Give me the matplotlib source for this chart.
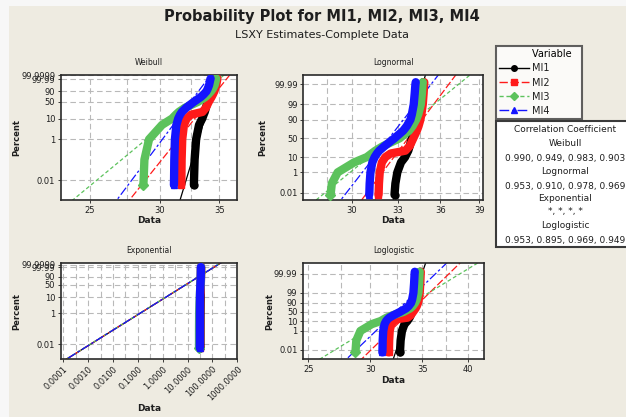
import math

import matplotlib
matplotlib.use("Agg")
from matplotlib import pyplot as plt
from matplotlib.lines import Line2D
from matplotlib.patches import Rectangle
import numpy as np

#############
#   DATA    #
#############
SERIES = ["MI1", "MI2", "MI3", "MI4"]
COLORS = ["#000000", "#FF1A1A", "#5CC25C", "#1414FF"]
MARKERS = ["o", "s", "D", "^"]
FIT_STYLES = ["-", (0, (6, 2)), (0, (3, 2)), (0, (7, 2, 2, 2))]

# cumulative percent of each read point (same for every series)
PCT = [0.0057, 0.01, 0.1, 1, 5, 10, 15, 20, 30, 50, 70, 80, 90, 95, 99, 99.9, 99.99, 99.994]
MI1 = [32.76, 32.77, 32.82, 32.95, 33.2, 33.48, 33.6, 33.7, 33.8, 33.95, 34.12, 34.22, 34.35, 34.45, 34.58, 34.68, 34.74, 34.76]
MI2 = [31.70, 31.71, 31.73, 31.78, 31.92, 32.15, 32.5, 33.5, 33.8, 34.05, 34.3, 34.42, 34.55, 34.62, 34.72, 34.78, 34.82, 34.83]
MI3 = [28.72, 28.74, 28.80, 29.15, 30.15, 30.95, 31.25, 31.5, 32.0, 33.1, 33.75, 34.0, 34.25, 34.4, 34.58, 34.66, 34.7, 34.72]
MI4 = [31.10, 31.11, 31.13, 31.18, 31.3, 31.45, 31.6, 31.75, 32.1, 32.75, 33.35, 33.6, 33.85, 33.95, 34.08, 34.15, 34.2, 34.22]
DATA = [MI1, MI2, MI3, MI4]

# fitted lines: data value at FIT_PCT[0] and FIT_PCT[1]
FIT_PCT = [0.0001, 99.999999]
WEIBULL_FIT = [(31.09, 34.93), (26.53, 36.12), (22.39, 35.67), (25.74, 34.36)]
LOGNORMAL_FIT = [(32.54, 35.25), (30.25, 38.24), (27.34, 40.10), (28.97, 36.93)]
EXPONENTIAL_FIT = [(1.22e-5, 224.7), (1.20e-5, 221.0), (1.18e-5, 217.4), (1.20e-5, 221.0)]
LOGLOGISTIC_FIT = [(31.80, 36.30), (28.39, 42.45), (24.65, 47.00), (27.14, 40.88)]

CORR_WEIBULL = [0.990, 0.949, 0.983, 0.903]
CORR_LOGNORMAL = [0.953, 0.910, 0.978, 0.969]
CORR_LOGLOGISTIC = [0.953, 0.895, 0.969, 0.949]

WEIBULL_YTICKS = [0.01, 1, 10, 50, 90, 99.99, 99.9999]
NORMAL_YTICKS = [0.01, 1, 10, 50, 90, 99, 99.99]
EXP_XTICKS = [0.0001, 0.001, 0.01, 0.1, 1, 10, 100, 1000]


#######################
#   Probability axes  #
#######################
def _frac(v):
    return np.clip(np.asarray(v, dtype=float) / 100.0, 1e-15, 1 - 1e-15)


def weibull_fwd(v):
    return np.log(-np.log1p(-_frac(v)))


def weibull_inv(w):
    return -100.0 * np.expm1(-np.exp(np.clip(np.asarray(w, dtype=float), -60, 5)))


_erfc = np.vectorize(math.erfc, otypes=[float])


def normal_inv(z):
    return 50.0 * _erfc(-np.asarray(z, dtype=float) / math.sqrt(2.0))


def normal_fwd(v):
    q = _frac(v)
    lo = np.full(q.shape, -12.0)
    hi = np.full(q.shape, 12.0)
    for _ in range(60):
        mid = 0.5 * (lo + hi)
        below = normal_inv(mid) / 100.0 < q
        lo = np.where(below, mid, lo)
        hi = np.where(below, hi, mid)
    return 0.5 * (lo + hi)


def logit_fwd(v):
    q = _frac(v)
    return np.log(q / (1 - q))


def logit_inv(t):
    return 100.0 / (1.0 + np.exp(-np.clip(np.asarray(t, dtype=float), -60, 60)))


def fmt_num(v):
    return "{:g}".format(v)


PANELS = [
    dict(name="Weibull", rect=[60.7, 75, 237, 200], funcs=(weibull_fwd, weibull_inv),
         ylim=(-11.47, 2.68), yticks=WEIBULL_YTICKS, xlim=(23.16, 36.65),
         xticks=[25, 30, 35], xminor=[27.5, 32.5], fit=WEIBULL_FIT, ylab_x=-0.225, xlab_y=-0.13),
    dict(name="Lognormal", rect=[303.3, 75, 483.3, 200], funcs=(normal_fwd, normal_inv),
         ylim=(-4.22, 4.34), yticks=NORMAL_YTICKS, xlim=(27.16, 39.32),
         xticks=[30, 33, 36, 39], xminor=[28.5, 31.5, 34.5, 37.5], fit=LOGNORMAL_FIT, ylab_x=-0.202, xlab_y=-0.13),
    dict(name="Exponential", rect=[60.7, 263, 237.3, 359], funcs=(weibull_fwd, weibull_inv),
         ylim=(-11.39, 2.87), yticks=WEIBULL_YTICKS, xlim=(7.8e-5, 1000),
         xticks=EXP_XTICKS, xminor=[3.16e-4, 3.16e-3, 3.16e-2, 0.316, 3.16, 31.6, 316],
         fit=EXPONENTIAL_FIT, ylab_x=-0.225, xlab_y=-0.47),
    dict(name="Loglogistic", rect=[303, 263, 484, 359], funcs=(logit_fwd, logit_inv),
         ylim=(-11.39, 11.84), yticks=NORMAL_YTICKS, xlim=(24.61, 41.97),
         xticks=[25, 30, 35, 40], xminor=[27.5, 32.5, 37.5], fit=LOGLOGISTIC_FIT, ylab_x=-0.16, xlab_y=-0.175),
]

W, H = 626.0, 417.0
TEXT_COLOR = "#1e1e1e"

fig = plt.figure(figsize=(6.26, 4.17), dpi=100, facecolor="#F7F7F7")
fig.add_artist(Rectangle((9 / W, 0), 1, 1 - 6 / H, transform=fig.transFigure,
                         facecolor="#EEEBE1", edgecolor="none", zorder=-10))

fig.text(0.5136, 1 - 17 / H, "Probability Plot for MI1, MI2, MI3, MI4", ha="center", va="center",
         fontsize=10.5, fontweight="bold", color=TEXT_COLOR)
fig.text(0.514, 1 - 35 / H, "LSXY Estimates-Complete Data", ha="center", va="center",
         fontsize=8, color=TEXT_COLOR)

for panel in PANELS:
    x0, y0, x1, y1 = panel["rect"]
    ax = fig.add_axes([x0 / W, 1 - y1 / H, (x1 - x0) / W, (y1 - y0) / H])
    ax.set_facecolor("white")
    ax.set_xscale("log")
    ax.set_yscale("function", functions=panel["funcs"])
    inv = panel["funcs"][1]
    ax.set_ylim(float(inv(panel["ylim"][0])), float(inv(panel["ylim"][1])))
    ax.set_xlim(*panel["xlim"])

    # axes ticks and grid
    ax.set_yticks(panel["yticks"])
    ax.set_yticklabels([fmt_num(v) for v in panel["yticks"]])
    ax.set_yticks([], minor=True)
    ax.set_xticks(panel["xticks"])
    if panel["name"] == "Exponential":
        ax.set_xticklabels(["{:.4f}".format(v) for v in panel["xticks"]], rotation=45,
                           ha="right", rotation_mode="anchor")
    else:
        ax.set_xticklabels([fmt_num(v) for v in panel["xticks"]])
    ax.set_xticks(panel["xminor"], minor=True)
    ax.set_xticklabels([], minor=True)
    ax.tick_params(which="major", length=2.5, width=0.6, labelsize=6, colors=TEXT_COLOR, pad=1.5)
    ax.tick_params(which="minor", length=0)
    ax.set_axisbelow(True)
    ax.xaxis.grid(True, which="both", color="#b9b9b9", linestyle=(0, (5, 3)), linewidth=0.8)
    ax.yaxis.grid(True, which="major", color="#b9b9b9", linestyle=(0, (5, 3)), linewidth=0.8)
    for spine in ax.spines.values():
        spine.set_linewidth(1.2)
        spine.set_color("#2a2a2a")

    ax.set_title(panel["name"], fontsize=5.5, pad=7, color=TEXT_COLOR)
    ax.set_ylabel("Percent", fontsize=6, fontweight="bold", color=TEXT_COLOR)
    ax.yaxis.set_label_coords(panel["ylab_x"], 0.5)
    ax.set_xlabel("Data", fontsize=6.5, fontweight="bold", color=TEXT_COLOR)
    ax.xaxis.set_label_coords(0.5, panel["xlab_y"])

    # fitted lines under the points
    for i, (lo, hi) in enumerate(panel["fit"]):
        ax.plot([lo, hi], FIT_PCT, color=COLORS[i], linestyle=FIT_STYLES[i], linewidth=0.9, zorder=2)

    # plotted points (dense, drawn as a thick band)
    for i, xs in enumerate(DATA):
        ax.plot(xs, PCT, color=COLORS[i], linewidth=6, solid_capstyle="round",
                solid_joinstyle="round", zorder=3 + i)
        ax.plot(xs[:1], PCT[:1], linestyle="none", marker=MARKERS[i], markersize=5,
                color=COLORS[i], zorder=3 + i)

# Legend
handles = [Line2D([], [], color=COLORS[i], marker=MARKERS[i], linestyle=FIT_STYLES[i],
                  linewidth=1.0, markersize=4) for i in range(len(SERIES))]
leg = fig.legend(handles, [s + " " * 9 for s in SERIES], title="Variable  ", loc="upper left",
                 bbox_to_anchor=(496 / W, 1 - 46 / H), fontsize=7, title_fontsize=7,
                 frameon=True, fancybox=False, edgecolor="#3a3a3a", handlelength=3.0,
                 labelspacing=0.42, borderpad=0.35, handletextpad=0.4, borderaxespad=0,
                 alignment="right")
leg.get_frame().set_linewidth(1.5)
for txt in leg.get_texts():
    txt.set_color(TEXT_COLOR)

# Correlation box
fig.add_artist(Rectangle((496 / W, 1 - 247 / H), 0.25, 126 / H, transform=fig.transFigure,
                         facecolor="white", edgecolor="#3a3a3a", linewidth=1.5, zorder=5))
corr_lines = [
    ("Correlation Coefficient", 130),
    ("Weibull", 143),
    (", ".join("{:.3f}".format(v) for v in CORR_WEIBULL), 158),
    ("Lognormal", 172),
    (", ".join("{:.3f}".format(v) for v in CORR_LOGNORMAL), 186),
    ("Exponential", 199),
    (", ".join(["*"] * 4), 212),
    ("Loglogistic", 225),
    (", ".join("{:.3f}".format(v) for v in CORR_LOGLOGISTIC), 240),
]
for text, ypx in corr_lines:
    fig.text(565 / W, 1 - ypx / H, text, ha="center", va="center", fontsize=6.5,
             color=TEXT_COLOR, zorder=6)

fig.savefig("out.png", dpi=100, facecolor=fig.get_facecolor())
